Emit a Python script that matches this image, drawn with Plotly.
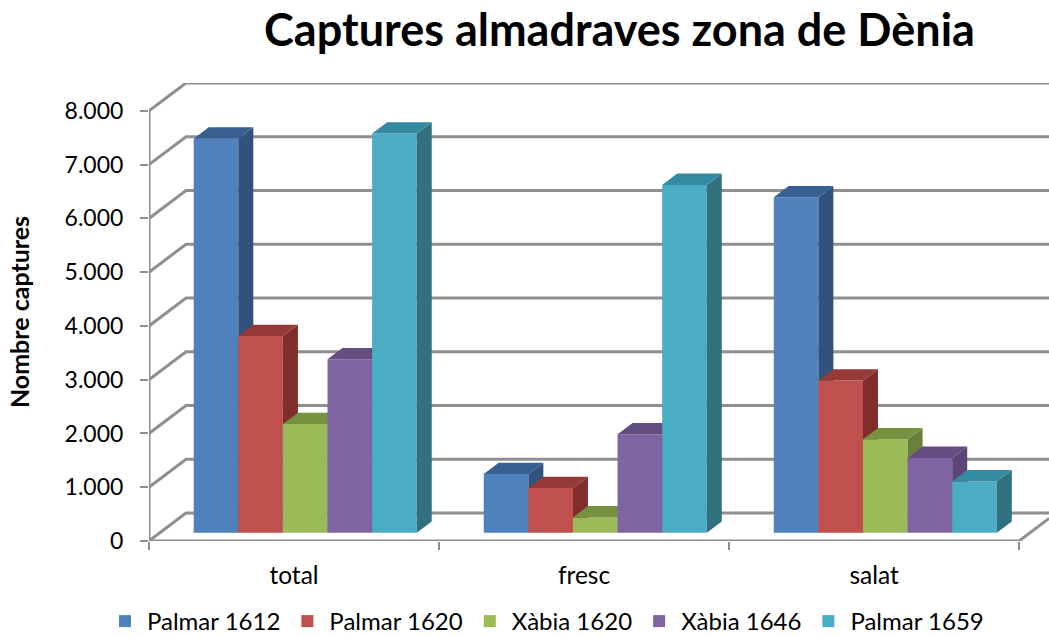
import plotly.graph_objects as go

categories = ["total", "fresc", "salat"]
series_names = ["Palmar 1612", "Palmar 1620", "Xàbia 1620", "Xàbia 1646", "Palmar 1659"]
palmar_1612 = [7330, 1090, 6240]
palmar_1620 = [3660, 830, 2830]
xabia_1620 = [2020, 285, 1740]
xabia_1646 = [3225, 1830, 1392]
palmar_1659 = [7425, 6470, 955]
series_values = [palmar_1612, palmar_1620, xabia_1620, xabia_1646, palmar_1659]
y_ticks = [0, 1000, 2000, 3000, 4000, 5000, 6000, 7000, 8000]

front_colors = ["#4F81BD", "#C0504D", "#9BBB59", "#8064A2", "#4BACC6"]
side_colors = ["#31527F", "#7F2E2C", "#68803A", "#5A4578", "#31717F"]
top_colors = ["#375F92", "#963A38", "#76913F", "#644D80", "#3589A0"]
grid_color = "#8F8F8F"

X_RANGE = [-0.5, 2.603]
Y_RANGE = [0, 8519]
WALL_DX, WALL_DY = 0.1276, 520     # floor depth, front edge to back wall
BAR_W = 0.1538
BAR_START = -0.3459
BAR_BASE = 154                     # bars stand slightly inside the floor
BAR_DX, BAR_DY = 0.0517, 210       # bar depth


def polygons(polys):
    xs, ys = [], []
    for poly in polys:
        xs += [p[0] for p in poly] + [poly[0][0], None]
        ys += [p[1] for p in poly] + [poly[0][1], None]
    return xs, ys


fig = go.Figure()

# Walls and floor drawn from the axis scale
gx, gy = [], []
for v in y_ticks:
    gx += [X_RANGE[0], X_RANGE[0] + WALL_DX, X_RANGE[1], None]
    gy += [v, v + WALL_DY, v + WALL_DY, None]
gx += [-0.5, -0.5, None, -0.5, 2.5, 2.5 + WALL_DX * 0.81]
gy += [0, 8000, None, 0, 0, WALL_DY * 0.81]
fig.add_trace(go.Scatter(x=gx, y=gy, mode="lines", line=dict(color=grid_color, width=3),
                         showlegend=False, hoverinfo="skip", cliponaxis=False))

for i, (name, vals) in enumerate(zip(series_names, series_values)):
    ax = str(i + 2)
    xa, ya = "x" + ax, "y" + ax
    offset = BAR_START + i * BAR_W
    fig.add_trace(go.Bar(x=[0, 1, 2], y=vals, base=BAR_BASE, width=BAR_W, offset=offset, name=name,
                         marker=dict(color=front_colors[i], line=dict(width=0)),
                         xaxis=xa, yaxis=ya))
    sides, tops = [], []
    for g, v in enumerate(vals):
        x0 = g + offset
        x1 = x0 + BAR_W
        y0 = BAR_BASE
        y1 = BAR_BASE + v
        sides.append([(x1, y0), (x1 + BAR_DX, y0 + BAR_DY), (x1 + BAR_DX, y1 + BAR_DY), (x1, y1)])
        tops.append([(x0, y1), (x0 + BAR_DX, y1 + BAR_DY), (x1 + BAR_DX, y1 + BAR_DY), (x1, y1)])
    for polys, col in ((sides, side_colors[i]), (tops, top_colors[i])):
        px, py = polygons(polys)
        fig.add_trace(go.Scatter(x=px, y=py, mode="none", fill="toself", fillcolor=col,
                                 showlegend=False, hoverinfo="skip", xaxis=xa, yaxis=ya))

layout = dict(
    width=1049, height=644,
    margin=dict(l=149, r=0, t=83, b=102),
    paper_bgcolor="white", plot_bgcolor="white",
    separators=",.",
    barmode="overlay",
    font=dict(family="Lato, Carlito, sans-serif", color="#000000", size=24),
    title=dict(text="<b>Captures almadraves zona de Dènia</b>", x=619.5 / 1049, xanchor="center",
               y=1 - 30 / 644, yanchor="middle", font=dict(size=45, color="#000000")),
    xaxis=dict(range=X_RANGE, tickmode="array", tickvals=[0, 1, 2], ticktext=categories,
               ticks="", showgrid=False, zeroline=False, showline=False, ticklabelstandoff=17,
               tickfont=dict(size=24.5), fixedrange=True,
               minor=dict(tickmode="array", tickvals=[-0.5, 0.5, 1.5, 2.5], ticks="outside", ticklen=8,
                          tickwidth=1.6, tickcolor=grid_color, showgrid=False)),
    yaxis=dict(range=Y_RANGE, tickmode="array", tickvals=y_ticks, tickformat=",d", ticks="outside",
               ticklen=8, tickwidth=2.4, tickcolor=grid_color, showgrid=False, zeroline=False,
               showline=False, ticklabelstandoff=12, tickfont=dict(size=23), fixedrange=True,
               automargin=True,
               title=dict(text="<b>Nombre captures</b>", font=dict(size=25), standoff=27)),
    legend=dict(orientation="h", x=(546 - 149) / 900, xanchor="center", y=(542 - 623) / 459, yanchor="middle",
                font=dict(size=24), bgcolor="rgba(0,0,0,0)", itemwidth=34),
)
for i in range(5):
    ax = str(i + 2)
    layout["xaxis" + ax] = dict(range=X_RANGE, overlaying="x", visible=False, fixedrange=True)
    layout["yaxis" + ax] = dict(range=Y_RANGE, overlaying="y", visible=False, fixedrange=True)
fig.update_layout(**layout)

fig.write_html("out.html", config=dict(displayModeBar=False), post_script=(
    "document.body.style.margin='0';"
    "document.documentElement.style.overflow='hidden';"
    "document.body.style.overflow='hidden';"
))
